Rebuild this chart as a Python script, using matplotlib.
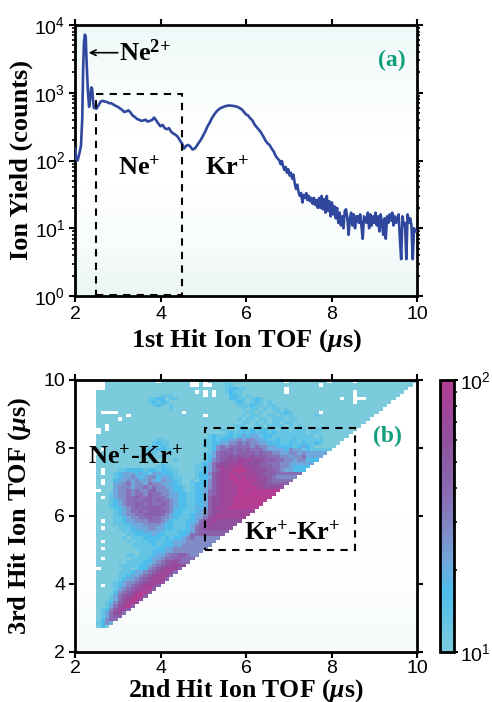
import matplotlib
matplotlib.use("Agg")
import matplotlib.pyplot as plt
import numpy as np
from matplotlib.colors import LinearSegmentedColormap, LogNorm
from matplotlib.patches import Rectangle
from matplotlib.ticker import FixedLocator, NullFormatter

plt.rcParams["font.family"] = ["Liberation Sans"]
plt.rcParams["mathtext.fontset"] = "custom"
plt.rcParams["mathtext.bf"] = "Liberation Serif:bold"
plt.rcParams["mathtext.rm"] = "Liberation Sans"
plt.rcParams["mathtext.it"] = "Liberation Serif:italic:bold"

# 1st hit spectrum
tof = [2.0, 2.03, 2.06, 2.1, 2.14, 2.17, 2.19, 2.21, 2.23, 2.25, 2.27, 2.3, 2.33, 2.36, 2.38, 2.4,
       2.42, 2.44, 2.47, 2.5, 2.55, 2.6, 2.65, 2.7, 2.75, 2.8, 2.85, 2.9, 2.95, 3.0, 3.05, 3.1,
       3.15, 3.2, 3.25, 3.3, 3.35, 3.4, 3.45, 3.5, 3.55, 3.6, 3.65, 3.7, 3.75, 3.8, 3.85, 3.9,
       3.95, 4.0, 4.05, 4.1, 4.15, 4.2, 4.25, 4.3, 4.35, 4.4, 4.45, 4.5, 4.55, 4.6, 4.65, 4.7,
       4.75, 4.8, 4.85, 4.9, 4.95, 5.0, 5.05, 5.1, 5.15, 5.2, 5.25, 5.3, 5.35, 5.4, 5.5, 5.6,
       5.7, 5.8, 5.9, 6.0, 6.05, 6.1, 6.15, 6.2, 6.25, 6.3, 6.35, 6.4, 6.45, 6.5, 6.55, 6.6,
       6.65, 6.7, 6.75, 6.78, 6.81, 6.84, 6.87, 6.9, 6.93, 6.96, 6.99, 7.02, 7.05, 7.08, 7.11, 7.14,
       7.17, 7.2, 7.23, 7.26, 7.29, 7.32, 7.35, 7.38, 7.41, 7.44, 7.47, 7.5, 7.53, 7.56, 7.59, 7.62,
       7.65, 7.68, 7.71, 7.74, 7.77, 7.8, 7.83, 7.86, 7.89, 7.92, 7.95, 7.98, 8.01, 8.04, 8.07, 8.1,
       8.13, 8.16, 8.19, 8.22, 8.25, 8.28, 8.31, 8.34, 8.37, 8.4, 8.43, 8.46, 8.49, 8.52, 8.55, 8.58,
       8.61, 8.64, 8.67, 8.7, 8.73, 8.76, 8.79, 8.82, 8.85, 8.88, 8.91, 8.94, 8.97, 9.0, 9.03, 9.06,
       9.09, 9.12, 9.15, 9.18, 9.21, 9.24, 9.27, 9.3, 9.33, 9.36, 9.39, 9.42, 9.45, 9.48, 9.51, 9.54,
       9.57, 9.6, 9.63, 9.66, 9.69, 9.72, 9.75, 9.78, 9.81, 9.84, 9.87, 9.9, 9.93, 9.96, 9.99]
ion_yield = [150, 105, 100, 125, 165, 420, 2200, 5500, 7200, 6800, 3000, 1100, 620, 900, 1200, 1150,
             800, 600, 590, 580, 650, 740, 760, 740, 730, 700, 700, 670, 640, 620, 590, 560,
             520, 530, 550, 510, 460, 440, 410, 400, 385, 390, 400, 375, 385, 395, 430, 390,
             350, 320, 335, 300, 290, 300, 265, 250, 240, 225, 200, 180, 150, 165, 170, 160,
             145, 150, 165, 185, 205, 235, 270, 320, 360, 420, 470, 520, 560, 590, 630, 650,
             640, 620, 570, 480, 460, 420, 390, 340, 310, 285, 260, 230, 200, 180, 170, 150,
             135, 115, 105, 100, 88, 98, 82, 72, 80, 66, 74, 60, 66, 54, 62, 46,
             38, 44, 34, 30, 33, 24, 31, 28, 33, 26, 30, 25, 28, 23, 28, 22,
             26, 20, 28, 20, 30, 19, 27, 17, 30, 18, 25, 15, 24, 16, 21, 14,
             20, 12, 17, 11, 15, 10, 18, 19, 14, 8, 14, 17, 11, 16, 10, 15,
             15, 12, 16, 11, 7, 15, 14, 12, 17, 10, 16, 11, 15, 12, 17, 11,
             15, 9, 16, 12, 8, 14, 7, 15, 12, 16, 13, 17, 11, 15, 12, 14,
             16, 7, 3.5, 15, 11, 12, 3.5, 16, 12, 14, 11, 3.5, 10, 9, 9]

# 3rd vs 2nd hit coincidence map, top row is y = 9.9, each row starts at x = 2.5
# digit = colour level, 0 -> 10 counts, 9 -> 100 counts, . = empty
map_rows = [
    "..00000000 0000.00000 00..0.0000 0000000000 0000.00000 0000.00000 .000000000 00000",
    "..00000000 0000000000 00..0..000 1100000000 0000000000 00.0000000 0000000000 00000",
    "..00000000 0000000000 0000000000 1221100000 0000.00000 0000000000 0000000000 0000",
    "0000000000 0000000000 000.0.0.00 1211000000 0000.00000 0000000000 .000000000 000",
    "0000000000 0000011100 00000.0.00 0221010000 0000000000 0000000000 .000000000 00",
    "0000000000 0011220110 0000000000 0221101210 0000000000 0000000.00 ...0000000 0",
    "0000000000 0012121000 0000000000 0012101210 1000000000 0000000000 .000000000",
    "0000000000 0001210100 0000000000 0001112110 1100000000 0000000000 000000000",
    "0000000000 0000000100 0000000000 0000101101 0110100000 0000000000 00000000",
    "0....00000 0000000000 .000000000 0000011010 0011210000 00.0000000 0000000",
    "0000000.00 0000000000 00000.0000 0000101100 1101110000 0100000000 000000",
    "00000.0000 0000000000 0000000000 0001011011 0111011000 0000000000 00000",
    "0000000000 0000000000 0000000000 0000110101 0110110000 0000000000 0000",
    "00.0000000 0000000000 0000000000 0011100110 1111010100 0000000000 000",
    ".0.0000000 0000000000 0000000001 1001212112 1101101110 0110000000 0",
    ".000000000 0000000000 0000000000 1211212122 1211111110 1100000000",
    "0000000000 0000000000 0000001211 2212323312 2111111111 101000000",
    "0000000000 0000110000 0000011212 2334344332 1121112111 11100000",
    "0000000000 0001211000 0000011223 3445454433 2221121121 1210000",
    "0000000000 0012121000 0000011245 4555554544 3322221232 100000",
    "0.00000000 0111221100 0000001245 5656565554 3333243312 1",
    ".000000000 0011000100 0000011356 6656666565 5443344343",
    "0000000000 0000110000 0000012356 6767667666 5554434453",
    "0000000000 0000000010 0000012456 7778887776 6655443442",
    "0000000000 0000011000 0000123567 7888877766 5554433",
    "0000000000 0000121100 0001123578 7889887766 6554432",
    "0.00011222 2122122110 0001123568 8899988777 6654332",
    "0.00123332 3213322210 0001224678 8989888776 665",
    "0000123343 2344233211 0001223678 8998988877 654",
    "0.00233434 3343243321 0010224678 8899989877 65",
    "0.00334534 4354433221 0012224678 8899998887 6",
    "0000344434 4545443322 1012234678 8889999887",
    ".000344545 4456444322 1012235678 8889989",
    "0001344545 5465544332 2112235678 888999",
    "0.01344556 5565554332 2112236778 88999",
    "0001234555 5665655432 2112236778 8899",
    "0001234556 6565565432 2112236778 889",
    "0001223456 5666655432 2113236788 89",
    "0000123455 6566665422 1112346778 8",
    "0000123445 5666654322 1123346788 8",
    "0000112344 5565544321 1123357888",
    "0.00112334 4455543211 122357787",
    "0000111233 3444432211 12346787",
    "0.00011123 3344332211 1235677",
    "0000001122 2333321112 223566",
    "0000000112 2223221112 23556",
    "0000001011 1222212122 3454",
    "0.00000101 1122112233 344",
    "0000000011 1112122233 4",
    "0.00000001 1111223344 4",
    "0000000000 1112223344 4",
    "0000000110 1112334556 654",
    "0.00000011 1123345566 5",
    "0000000111 1223456776 5",
    "0000011111 2234567787",
    ".000001101 2245678886",
    "0000011123 345678885",
    "0000011233 45678885",
    "0000012334 5678886",
    "0000123445 678887",
    "0.00123456 78886",
    "0000134567 8896",
    "0000245678 996",
    "0001356789 96",
    "0001357899 7",
    "0012467897",
    "001357896",
    "01246886",
    "0135775",
    "013566",
    "02465",
    "1243",
    "020",
]

x_ticks = [2, 4, 6, 8, 10]
yield_ticks = [1, 10, 100, 1000, 10000]
yield_labels = ["$\\mathrm{10^{0}}$", "$\\mathrm{10^{1}}$", "$\\mathrm{10^{2}}$", "$\\mathrm{10^{3}}$", "$\\mathrm{10^{4}}$"]

line_color = "#2f479c"
label_color = "#0f9f7c"
map_colors = ["#7ccbdd", "#64c4e4", "#4dbdeb", "#6fa8dc", "#7f8cc6", "#8770b6", "#8a60aa", "#90509f", "#a0469a", "#b53d91"]
map_cmap = LinearSegmentedColormap.from_list("ion_map", map_colors)
panel_a_bg = ["#eef8f8", "#f8fcfc", "#ffffff", "#ffffff", "#f8fcfc", "#ebf6f5"]
panel_b_bg = ["#ffffff", "#ffffff", "#ffffff", "#fdfefe", "#f6fafa"]

W, H = 492, 702
fig = plt.figure(figsize=(W / 100, H / 100), dpi=100)


def add_axes_px(left, top, right, bottom):
    return fig.add_axes([left / W, 1 - bottom / H, (right - left) / W, (bottom - top) / H])


def background(ax, colors):
    cmap = LinearSegmentedColormap.from_list("bg", colors)
    ax.imshow(np.linspace(0, 1, 200)[:, None], cmap=cmap, aspect="auto", extent=(0, 1, 0, 1),
              origin="upper", transform=ax.transAxes, zorder=0)


def style_frame(ax):
    for side in ax.spines.values():
        side.set_linewidth(2.0)
    ax.tick_params(which="major", direction="out", width=1.5, length=4, labelsize=14, pad=3)
    ax.tick_params(which="minor", direction="out", width=1.2, length=2.2)


def bold_text(ax, x, y, s, size=19, color="black", **kw):
    return ax.text(x, y, s, fontfamily="Liberation Serif", fontweight="bold", fontsize=size, color=color, **kw)


# panel (a)
ax1 = add_axes_px(75, 25, 417, 296)
background(ax1, panel_a_bg)
ax1.plot(tof, ion_yield, color=line_color, lw=1.9, zorder=3)
ax1.set_yscale("log")
ax1.set_xlim(2, 10)
ax1.set_ylim(1, 10000)
ax1.add_patch(Rectangle((2.5, 1.03), 2.0, 970, fill=False, ec="black", lw=1.5, ls=(0, (3.5, 3)), zorder=4))
style_frame(ax1)
ax1.set_xticks(x_ticks)
ax1.set_yticks(yield_ticks, yield_labels)
ax1.yaxis.set_minor_locator(FixedLocator([m * d for d in [1, 10, 100, 1000] for m in range(2, 10)]))
ax1.yaxis.set_minor_formatter(NullFormatter())
ax1.tick_params(which="both", top=True, right=True, labelright=False, labeltop=False)
ax1.set_xlabel("1st Hit Ion TOF ($\\mathit{\\mu}$s)", fontfamily="Liberation Serif", fontweight="bold", fontsize=19)
ax1.set_ylabel("Ion Yield (counts)", fontfamily="Liberation Serif", fontweight="bold", fontsize=19)
ax1.xaxis.set_label_coords(0.5, -0.115)
ax1.yaxis.set_label_coords(-0.122, 0.5)
ax1.annotate("", xy=(2.32, 3900), xytext=(3.0, 3900),
             arrowprops=dict(arrowstyle="->", color="black", lw=1.2, shrinkA=0, shrinkB=0), zorder=5)
bold_text(ax1, 3.03, 3900, "Ne$\\mathbf{^{2{+}}}$", va="center")
bold_text(ax1, 3.0, 78, "Ne$\\mathbf{^{+}}$", va="center")
bold_text(ax1, 5.05, 78, "Kr$\\mathbf{^{+}}$", va="center")
bold_text(ax1, 9.4, 3000, "(a)", size=17, color=label_color, ha="center", va="center")

# panel (b)
n_cols = 75
counts = np.full((len(map_rows), n_cols), np.nan)
for j, row in enumerate(map_rows):
    cells = row.replace(" ", "")
    n_keep = n_cols - j
    cells = cells.ljust(n_keep, cells[-1])[:n_keep]
    for i, c in enumerate(cells):
        if c != ".":
            counts[j, i] = 10 ** (1 + int(c) / 9)

x_edges = 2.5 + 0.1 * np.arange(n_cols + 1)
y_edges = 10.0 - 0.1 * np.arange(len(map_rows) + 1)

ax2 = add_axes_px(75, 380, 417, 652)
background(ax2, panel_b_bg)
mesh = ax2.pcolormesh(x_edges, y_edges, np.ma.masked_invalid(counts), cmap=map_cmap,
                      norm=LogNorm(vmin=10, vmax=100), zorder=2)
ax2.set_xlim(2, 10)
ax2.set_ylim(2, 10)
ax2.add_patch(Rectangle((5.05, 5.0), 3.5, 3.6, fill=False, ec="black", lw=1.5, ls=(0, (3.5, 3)), zorder=4))
style_frame(ax2)
ax2.set_xticks(x_ticks)
ax2.set_yticks(x_ticks)
ax2.tick_params(which="both", top=True, right=True, labelright=False, labeltop=False)
ax2.tick_params(axis="x", which="major", pad=1.5)
ax2.set_xlabel("2nd Hit Ion TOF ($\\mathit{\\mu}$s)", fontfamily="Liberation Serif", fontweight="bold", fontsize=18.5)
ax2.set_ylabel("3rd Hit Ion TOF ($\\mathit{\\mu}$s)", fontfamily="Liberation Serif", fontweight="bold", fontsize=19)
ax2.xaxis.set_label_coords(0.5, -0.092)
ax2.yaxis.set_label_coords(-0.122, 0.5)
bold_text(ax2, 2.3, 7.75, "Ne$\\mathbf{^{+}}$-Kr$\\mathbf{^{+}}$", va="center", zorder=5)
bold_text(ax2, 5.95, 5.5, "Kr$\\mathbf{^{+}}$-Kr$\\mathbf{^{+}}$", va="center", zorder=5)
bold_text(ax2, 9.3, 8.35, "(b)", size=17, color=label_color, ha="center", va="center", zorder=5)

cax = add_axes_px(440, 380, 454, 652)
cbar = fig.colorbar(mesh, cax=cax)
cbar.outline.set_linewidth(2.0)
cbar.set_ticks([10, 100], labels=["$\\mathrm{10^{1}}$", "$\\mathrm{10^{2}}$"])
cbar.ax.yaxis.set_minor_locator(FixedLocator([20, 30, 40, 50, 60, 70, 80, 90]))
cbar.ax.yaxis.set_minor_formatter(NullFormatter())
cbar.ax.tick_params(which="major", direction="out", width=1.5, length=3, labelsize=14, pad=1)
cbar.ax.tick_params(which="minor", direction="out", width=1.2, length=2.5)

fig.savefig("out.png", dpi=100)
